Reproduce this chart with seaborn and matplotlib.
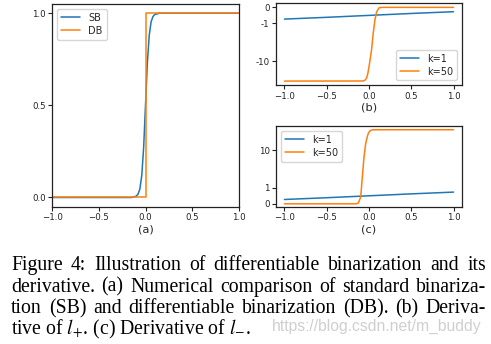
import matplotlib
matplotlib.use("Agg")
import matplotlib.pyplot as plt
import seaborn as sns
from matplotlib.ticker import FixedLocator, NullLocator

# (a) standard binarization (SB) vs differentiable binarization (DB)
sb_x = [-1.0, -0.15, -0.10, -0.08, -0.06, -0.04, -0.02, 0.0, 0.02, 0.04, 0.06, 0.08, 0.10, 0.15, 1.0]
sb_y = [0.0, 0.0, 0.007, 0.018, 0.047, 0.12, 0.27, 0.5, 0.73, 0.88, 0.953, 0.982, 0.993, 1.0, 1.0]
db_x = [-1.0, 0.0, 0.0, 1.0]
db_y = [0.0, 0.0, 1.0, 1.0]

# (b) derivative of l+
lp_k1_x = [-1.0, -0.5, 0.0, 0.5, 1.0]
lp_k1_y = [-0.73, -0.62, -0.50, -0.38, -0.27]
lp_k50_x = [-1.0, -0.07, -0.05, -0.03, -0.015, 0.0, 0.015, 0.03, 0.05, 0.07, 0.09, 0.12, 0.15, 1.0]
lp_k50_y = [-34.0, -33.8, -32.5, -28.8, -22.0, -14.2, -8.5, -5.1, -1.81, -0.79, -0.275, -0.025, 0.0, 0.0]

# (c) derivative of l-
lm_k1_x = [-1.0, -0.5, 0.0, 0.5, 1.0]
lm_k1_y = [0.27, 0.38, 0.50, 0.62, 0.73]
lm_k50_x = [-1.0, -0.15, -0.126, -0.098, -0.079, -0.059, -0.039, -0.02, -0.008, 0.01, 0.032, 0.06, 1.0]
lm_k50_y = [0.0, 0.0, 0.05, 0.43, 1.92, 6.6, 15.1, 23.0, 28.0, 32.5, 34.4, 35.0, 35.0]

x_ticks = [-1.0, -0.5, 0.0, 0.5, 1.0]
a_yticks = [0.0, 0.5, 1.0]
b_yticks = [0, -1, -10]
b_yticklabels = ["0", "-1", "-10"]
c_yticks = [0, 1, 10]
c_yticklabels = ["0", "1", "10"]

caption_lines = [
    "Figure 4: Illustration of differentiable binarization and its",
    "derivative. (a) Numerical comparison of standard binariza-",
    "tion (SB) and differentiable binarization (DB). (b) Deriva-",
]
caption_last = r"tive of $l_{+}$. (c) Derivative of $l_{-}$."
watermark = "https://blog.csdn.net/m_buddy"

sns.set_style("ticks")
plt.rcParams.update({
    "font.family": ["DejaVu Sans"],
    "mathtext.fontset": "stix",
    "axes.edgecolor": "#222222",
    "axes.linewidth": 0.9,
    "xtick.color": "#222222",
    "ytick.color": "#222222",
    "xtick.major.size": 2.6,
    "ytick.major.size": 2.6,
    "xtick.major.width": 0.8,
    "ytick.major.width": 0.8,
    "xtick.major.pad": 2.0,
    "ytick.major.pad": 2.0,
})

BLUE = "#1f77b4"
ORANGE = "#ff7f0e"
LW = 1.1
W, H = 491, 344

fig = plt.figure(figsize=(W / 100, H / 100), dpi=100)
fig.patch.set_facecolor("white")


def rect(left, top, right, bottom):
    return [left / W, (H - bottom) / H, (right - left) / W, (bottom - top) / H]


ax_a = fig.add_axes(rect(52.3, 4.0, 238.7, 206.7))
ax_b = fig.add_axes(rect(276.0, 2.7, 462.0, 85.3))
ax_c = fig.add_axes(rect(276.0, 126.0, 462.0, 206.7))

line_kw = dict(estimator=None, sort=False, lw=LW)
leg_kw = dict(fontsize=7, handlelength=2.0, borderpad=0.4, labelspacing=0.3,
              handletextpad=0.8, borderaxespad=0.5)

# (a)
sns.lineplot(x=sb_x, y=sb_y, ax=ax_a, color=BLUE, label="SB", **line_kw)
sns.lineplot(x=db_x, y=db_y, ax=ax_a, color=ORANGE, label="DB", **line_kw)
ax_a.set_xlim(-1.0, 1.0)
ax_a.set_ylim(-0.05, 1.05)
ax_a.xaxis.set_major_locator(FixedLocator(x_ticks))
ax_a.yaxis.set_major_locator(FixedLocator(a_yticks))
ax_a.set_xlabel("(a)", fontsize=8.2, labelpad=1.5)
ax_a.legend(loc="upper left", **leg_kw)

# (b)
sns.lineplot(x=lp_k1_x, y=lp_k1_y, ax=ax_b, color=BLUE, label="k=1", **line_kw)
sns.lineplot(x=lp_k50_x, y=lp_k50_y, ax=ax_b, color=ORANGE, label="k=50", **line_kw)
ax_b.set_yscale("symlog", linthresh=1.0, linscale=0.384)
ax_b.set_ylim(-44.0, 0.29)
ax_b.set_xlim(-1.1, 1.1)
ax_b.xaxis.set_major_locator(FixedLocator(x_ticks))
ax_b.set_yticks(b_yticks, b_yticklabels)
ax_b.yaxis.set_minor_locator(NullLocator())
ax_b.set_xlabel("(b)", fontsize=8.2, labelpad=1.5)
ax_b.legend(loc="lower right", **leg_kw)

# (c)
sns.lineplot(x=lm_k1_x, y=lm_k1_y, ax=ax_c, color=BLUE, label="k=1", **line_kw)
sns.lineplot(x=lm_k50_x, y=lm_k50_y, ax=ax_c, color=ORANGE, label="k=50", **line_kw)
ax_c.set_yscale("symlog", linthresh=1.0, linscale=0.384)
ax_c.set_ylim(-0.18, 44.0)
ax_c.set_xlim(-1.1, 1.1)
ax_c.xaxis.set_major_locator(FixedLocator(x_ticks))
ax_c.set_yticks(c_yticks, c_yticklabels)
ax_c.yaxis.set_minor_locator(NullLocator())
ax_c.set_xlabel("(c)", fontsize=8.2, labelpad=1.5)
ax_c.legend(loc="upper left", **leg_kw)

for ax in (ax_a, ax_b, ax_c):
    ax.tick_params(axis="both", labelsize=6.2)
    for s in ax.spines.values():
        s.set_visible(True)

# caption, justified between two margins
cap_kw = dict(family="Liberation Serif", fontsize=14.2, color="black", va="baseline", ha="left")
x_left, x_right = 11.0, 486.0
baselines = [270.0, 291.7, 313.3, 334.5]

fig.canvas.draw()
renderer = fig.canvas.get_renderer()
for line, base in zip(caption_lines, baselines):
    words = line.split(" ")
    texts = [fig.text(0, 1 - base / H, w, **cap_kw) for w in words]
    widths = [t.get_window_extent(renderer).width for t in texts]
    gap = (x_right - x_left - sum(widths)) / (len(words) - 1)
    xpos = x_left
    for t, w in zip(texts, widths):
        t.set_x(xpos / W)
        xpos += w + gap

fig.text(x_left / W, 1 - baselines[3] / H, caption_last, **cap_kw)
fig.text(271.7 / W, 1 - 331.0 / H, watermark, family="Liberation Sans", fontsize=11.3,
         color="#cfcfcf", va="baseline", ha="left")

fig.savefig("out.png", dpi=100, facecolor="white")
